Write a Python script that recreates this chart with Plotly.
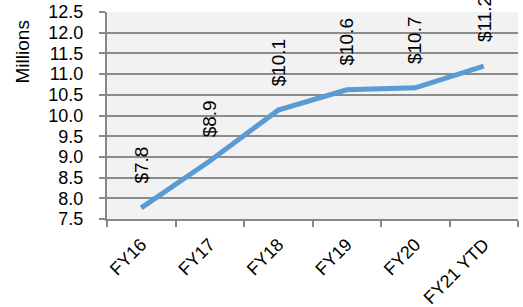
import plotly.graph_objects as go

categories = ["FY16", "FY17", "FY18", "FY19", "FY20", "FY21 YTD"]
values = [7.77, 8.9, 10.13, 10.62, 10.67, 11.19]
labels = ["$7.8", "$8.9", "$10.1", "$10.6", "$10.7", "$11.2"]
y_ticks = [7.5, 8.0, 8.5, 9.0, 9.5, 10.0, 10.5, 11.0, 11.5, 12.0, 12.5]

fig = go.Figure()
fig.add_trace(go.Scatter(
    x=categories, y=values, mode="lines",
    line=dict(color="#5b9bd5", width=5),
    hoverinfo="skip", showlegend=False,
))

for c, v, t in zip(categories, values, labels):
    fig.add_annotation(
        x=c, y=v, text=t, textangle=-90, showarrow=False,
        yanchor="bottom", xanchor="center", yshift=22,
        font=dict(family="Liberation Sans", size=19, color="#000000"),
    )

fig.add_annotation(
    xref="paper", yref="paper", x=-0.205, y=0.97, text="Millions",
    textangle=-90, showarrow=False, xanchor="center", yanchor="top",
    font=dict(family="Liberation Sans", size=19, color="#000000"),
)

fig.update_layout(
    width=523, height=307,
    margin=dict(l=107, r=5, t=12, b=88, autoexpand=False),
    paper_bgcolor="#ffffff", plot_bgcolor="#f2f2f2",
    font=dict(family="Liberation Sans", size=16, color="#000000"),
)
fig.update_xaxes(
    type="category", range=[-0.5, 5.5], tickangle=-45, automargin=False,
    showgrid=False, showline=True, linecolor="#888888", linewidth=2,
    ticks="outside", tickson="boundaries", ticklen=6, tickcolor="#888888", tickwidth=2,
    tickfont=dict(family="Liberation Sans", size=18), ticklabelstandoff=6,
)
fig.update_yaxes(
    range=[7.5, 12.5], tickvals=y_ticks, ticktext=[f"{v:.1f}" for v in y_ticks],
    automargin=False,
    showgrid=True, gridcolor="#8c8c8c", gridwidth=2,
    showline=True, linecolor="#888888", linewidth=2,
    ticks="outside", ticklen=6, tickcolor="#888888", tickwidth=2,
    tickfont=dict(family="Liberation Sans", size=18), zeroline=False,
    ticklabelstandoff=12,
)

fig.write_html(
    "out.html",
    config={"displayModeBar": False},
    post_script="document.body.style.margin='0';document.body.style.overflow='hidden';",
)
